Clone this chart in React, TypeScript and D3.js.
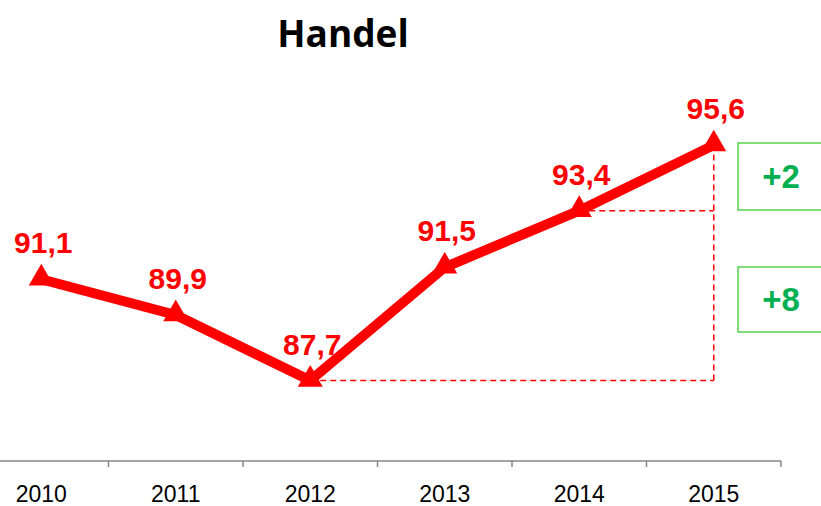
import * as d3 from "d3";

const years = ["2010", "2011", "2012", "2013", "2014", "2015"];
const values = [91.1, 89.9, 87.7, 91.5, 93.4, 95.6];
const diffLabels = ["+2", "+8"];

const App = () => {
  const width = 821;
  const height = 506;
  const axisY = 461;

  const xScale = d3.scaleBand<string>().domain(years).range([-26, 781]).padding(0);
  const yScale = d3.scaleLinear().domain([85, 100]).range([axisY, axisY - 15 * 29.8]);

  const cx = (y: string) => (xScale(y) as number) + xScale.bandwidth() / 2;
  const pts: [number, number][] = years.map((y, i) => [cx(y), yScale(values[i])]);

  const line = d3.line<[number, number]>();
  const tri = d3.symbol().type(d3.symbolTriangle).size(270);

  const last = pts[pts.length - 1];
  const low = pts[2];
  const prev = pts[4];
  const boxX = 738;

  return (
    <svg width={width} height={height} style={{ position: "absolute", left: 0, top: 0 }}>
      <text x={343} y={47} textAnchor="middle" fontFamily="Open Sans, Lato, sans-serif" fontWeight="bold" fontSize={37}>
        Handel
      </text>

      <line x1={0} x2={781} y1={axisY} y2={axisY} stroke="#868686" strokeWidth={1.5} />
      {years.map((y) => (
        <line key={y} x1={(xScale(y) as number) + xScale.bandwidth()} x2={(xScale(y) as number) + xScale.bandwidth()} y1={axisY} y2={axisY + 6} stroke="#868686" strokeWidth={1.5} />
      ))}
      {years.map((y) => (
        <text key={y} x={cx(y)} y={502} textAnchor="middle" fontFamily="Liberation Sans Narrow, Arial Narrow, sans-serif" fontSize={23} fill="#000">
          {y}
        </text>
      ))}

      <g stroke="#ff0000" strokeWidth={1.5} strokeDasharray="6,4" fill="none">
        <line x1={low[0]} x2={last[0]} y1={low[1]} y2={low[1]} />
        <line x1={prev[0]} x2={last[0]} y1={prev[1]} y2={prev[1]} />
        <line x1={last[0]} x2={last[0]} y1={low[1]} y2={last[1]} />
      </g>

      <path d={line(pts) ?? ""} fill="none" stroke="#ff0000" strokeWidth={10} strokeLinejoin="round" />
      {pts.map((p, i) => (
        <path key={i} d={tri() ?? ""} transform={`translate(${p[0]},${p[1] - 1})`} fill="#ff0000" />
      ))}
      {pts.map((p, i) => (
        <text key={i} x={p[0] + 2} y={p[1] - 26} textAnchor="middle" fontFamily="Liberation Sans, Arial, sans-serif" fontWeight="bold" fontSize={30} fill="#ff0000">
          {d3.format(".1f")(values[i]).replace(".", ",")}
        </text>
      ))}

      {[
        [143, 210],
        [267, 332],
      ].map(([y0, y1], i) => (
        <g key={i}>
          <rect x={boxX} y={y0} width={100} height={y1 - y0} fill="#fff" stroke="#55d24a" strokeWidth={1.5} />
          <text x={781} y={(y0 + y1) / 2 + 11} textAnchor="middle" fontFamily="Liberation Sans, Arial, sans-serif" fontWeight="bold" fontSize={33} fill="#00b050">
            {diffLabels[i]}
          </text>
        </g>
      ))}
    </svg>
  );
};

export default App;
